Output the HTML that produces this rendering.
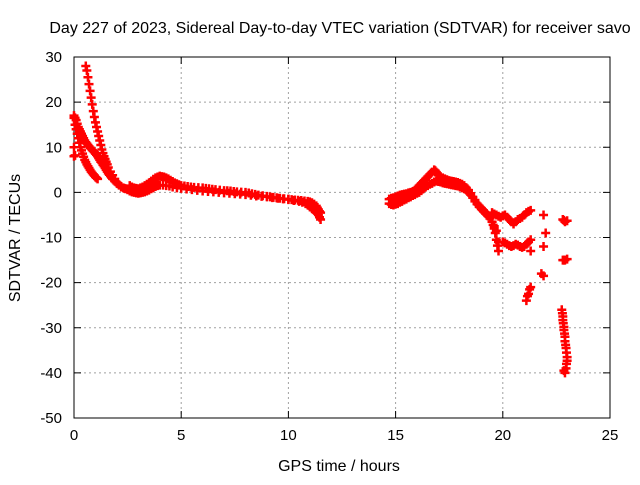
<!DOCTYPE html>
<html><head><meta charset="utf-8"><style>
body{margin:0;background:#fff}
svg{font-family:"Liberation Sans",sans-serif;font-size:15px}
</style></head><body>
<svg id="chart" width="640" height="480">
<text x="340" y="33" text-anchor="middle" style="font-size:16px">Day 227 of 2023, Sidereal Day-to-day VTEC variation (SDTVAR) for receiver savo</text>
<text x="339" y="471" text-anchor="middle" style="font-size:16px">GPS time / hours</text>
<text transform="translate(20,238) rotate(-90)" text-anchor="middle" style="font-size:16px">SDTVAR / TECUs</text>
<g id="grid"></g><g id="axes"></g><g id="marks"></g>
</svg>
<script>
const xTicks=[0,5,10,15,20,25];
const yTicks=[30,20,10,0,-10,-20,-30,-40,-50];
const trackA_x=[0.55,0.6,0.65,0.7,0.75,0.8,0.85,0.9,0.95,1.0,1.05,1.1,1.15,1.2,1.25,1.3,1.35,1.4,1.45,1.5,1.55,1.6,1.7,1.8,1.9,2.0,2.1,2.2,2.35,2.5,2.65,2.8,3.0];
const trackA_y=[28,27,25.5,24,22.5,21,19.5,18,16.7,15.5,14.5,13.5,12.5,11.5,10.5,9.5,8.7,8,7.4,6.8,6.2,5.5,4.6,3.8,3,2.2,1.7,1.3,0.9,0.6,0.4,0.3,0.2];
const trackB_x=[0,0.05,0.1,0.15,0.2,0.25,0.3,0.35,0.4,0.45,0.5,0.55,0.6,0.65,0.7,0.75,0.8,0.85,0.9,0.95,1.0,1.05,1.1,1.15,1.2,1.25,1.3,1.35,1.4,1.45,1.5,1.55,1.6,1.65,1.7,1.75,1.8,1.9,2.0,2.1,2.2,2.3,2.4,2.5,2.6];
const trackB_y=[17,16.5,16,15.2,14.5,14,13.5,13,12.5,12,11.5,11.1,10.8,10.5,10.2,9.9,9.7,9.4,9.2,8.9,8.6,8.3,8,7.6,7.2,6.8,6.5,6.1,5.8,5.4,5,4.6,4.2,3.9,3.6,3.3,3,2.5,2,1.6,1.2,1,0.8,0.6,0.5];
const trackC_x=[0,0.05,0.1,0.15,0.2,0.25,0.3,0.35,0.4,0.45,0.5,0.55,0.6,0.65,0.7,0.75,0.8,0.85,0.9,0.95,1.0,1.05,1.1,0,0,0.05];
const trackC_y=[16.5,15,14,13,12,11,10,9.3,8.6,7.9,7.2,6.7,6.2,5.8,5.4,5,4.6,4.3,4,3.7,3.4,3.2,3,10,8,8.2];
const band1_x=[2.6,2.7,2.8,2.9,3.0,3.1,3.2,3.3,3.4,3.5,3.6,3.7,3.8,3.9,4.0,4.1,4.2,4.3,4.4,4.5,4.6,4.7,4.8,4.9,5.0,5.15,5.3,5.45,5.6,5.8,6.0,6.15,6.3,6.45,6.6,6.8,7.0,7.15,7.3,7.45,7.6,7.8,8.0,8.15,8.3,8.45,8.6,8.8,9.0,9.15,9.3,9.45,9.6,9.8,10.0,10.15,10.3,10.45,10.6,10.75,10.9,11.0,11.1,11.2,11.3,11.35,11.4,11.45,11.5];
const band1_y=[1.5,1.2,1,0.9,0.8,1,1.2,1.5,1.8,2.1,2.5,2.9,3.2,3.4,3.6,3.5,3.4,3.2,3,2.7,2.4,2.1,1.9,1.7,1.5,1.4,1.3,1.2,1.1,1.05,1,0.9,0.8,0.7,0.6,0.5,0.4,0.35,0.3,0.2,0.1,0.05,0,-0.15,-0.3,-0.45,-0.6,-0.75,-0.9,-1,-1.1,-1.2,-1.3,-1.4,-1.5,-1.6,-1.7,-1.75,-1.8,-1.9,-2,-2.1,-2.3,-2.6,-3,-3.4,-3.8,-4.2,-4.5];
const band2_x=[2.6,2.7,2.8,2.9,3.0,3.1,3.2,3.3,3.4,3.5,3.6,3.7,3.8,3.9,4.0,4.15,4.3,4.45,4.6,4.8,5.0,5.25,5.5,5.75,6.0,6.25,6.5,6.75,7.0,7.25,7.5,7.75,8.0,8.25,8.5,8.75,9.0,9.25,9.5,9.75,10.0,10.25,10.5,10.65,10.8,10.9,11.0,11.1,11.2,11.3,11.4,11.45,11.5];
const band2_y=[0.3,0.1,0,-0.1,-0.2,-0.1,0,0.1,0.3,0.5,0.8,1,1.3,1.5,1.6,1.6,1.5,1.4,1.2,1,0.9,0.75,0.6,0.45,0.3,0.2,0.1,0,-0.1,-0.2,-0.3,-0.4,-0.5,-0.65,-0.8,-0.9,-1,-1.15,-1.3,-1.45,-1.6,-1.8,-2,-2.2,-2.5,-2.8,-3.2,-3.6,-4,-4.5,-5,-5.5,-6];
const band3_x=[14.7,14.8,14.9,15.0,15.1,15.2,15.3,15.4,15.5,15.6,15.7,15.8,15.9,16.0,16.1,16.2,16.3,16.4,16.5,16.6,16.7,16.8,16.85,16.9,17.0,17.1,17.2,17.3,17.4,17.5,17.6,17.7,17.8,17.9,18.0,18.1,18.2,18.3,18.4,18.5,18.6,18.7,18.8,18.9,19.0,19.1,19.2,19.3,19.4,19.5,19.55,19.6,19.65,19.7,19.75,19.8];
const band3_y=[-1.5,-1.3,-1.2,-1,-0.8,-0.6,-0.5,-0.4,-0.3,-0.1,0,0.2,0.5,1,1.5,2,2.5,3,3.5,4,4.5,5,4.8,4.5,3.8,3.5,3.2,3,2.8,2.6,2.5,2.4,2.3,2.2,2,1.8,1.5,1,0.5,-0.2,-1,-1.7,-2.5,-3,-3.5,-4,-4.5,-5,-5.5,-6.5,-7.2,-8,-9,-10.5,-11.8,-13];
const band4_x=[14.7,14.8,14.9,15.0,15.1,15.2,15.3,15.4,15.5,15.6,15.7,15.8,15.9,16.0,16.1,16.2,16.3,16.4,16.5,16.6,16.7,16.8,16.9,17.0,17.1,17.2,17.3,17.4,17.5,17.6,17.7,17.8,17.9,18.0,18.1,18.2,18.3,18.4,18.5,18.6,18.7,18.8,18.9,19.0,19.1,19.2,19.3,19.4,19.5,19.6,19.7,19.8];
const band4_y=[-2.5,-2.7,-2.8,-2.6,-2.5,-2.2,-2,-1.7,-1.5,-1.2,-1,-0.7,-0.5,-0.2,0,0.4,0.8,1.2,1.5,1.8,2,2.3,2.5,2.4,2.3,2.1,2,1.9,1.8,1.7,1.6,1.5,1.4,1.2,1,0.8,0.5,0,-0.5,-1.2,-2,-2.6,-3.2,-3.7,-4.2,-4.7,-5.2,-5.8,-6.5,-7.5,-8.5,-11];
const band5_x=[19.5,19.6,19.7,19.8,19.9,20.0,20.1,20.2,20.3,20.4,20.5,20.6,20.7,20.8,20.9,21.0,21.1,21.2,21.3,20.0,20.1,20.2,20.3,20.4,20.5,20.6,20.7,20.8,20.9,21.0,21.1,21.2,21.3,21.3,21.3,21.25,21.2,21.15,21.1,21.9,22.0,21.9,21.9,21.8,22.8,22.85,22.9,23.0,22.8,22.85,22.9,23.0];
const band5_y=[-4.5,-4.8,-5,-5.3,-5.5,-5.2,-5,-5.5,-6,-6.5,-7,-6.5,-6,-5.8,-5.5,-5,-4.5,-4.2,-4,-11,-11.2,-11.5,-11.8,-12,-11.8,-11.5,-11.7,-12,-12.2,-12,-11.5,-11,-10.5,-13,-21,-21.5,-22.5,-23,-24,-5,-9,-12,-18.5,-18,-6,-6.2,-6.5,-6.3,-15,-15,-15,-14.8];
const band6_x=[22.75,22.78,22.8,22.8,22.82,22.85,22.85,22.88,22.9,22.9,22.93,22.95,22.97,23.0,23.0,22.97,22.95,22.9,22.85];
const band6_y=[-26,-26.8,-27.5,-28.3,-29,-29.8,-30.5,-31.3,-32,-33,-33.8,-34.5,-35.5,-36.5,-37.3,-38,-39,-40,-39.5];
const L=74,R=610,T=57,B=418;
const X=v=>L+(v-0)/25*(R-L), Y=v=>T+(30-v)/80*(B-T);
const ns="http://www.w3.org/2000/svg";
const g=document.getElementById('grid'),a=document.getElementById('axes'),m=document.getElementById('marks');
function mk(tag,at,p){const e=document.createElementNS(ns,tag);for(const k in at)e.setAttribute(k,at[k]);p.appendChild(e);return e;}
xTicks.forEach(t=>{
 const gl=mk('line',{x1:X(t),x2:X(t),y1:T,y2:B,stroke:'#a0a0a0','stroke-dasharray':'2,3'},g);
 
 
 mk('path',{d:`M${X(t)},${B}v-7M${X(t)},${T}v7`,stroke:'#000'},a);
 const tx=mk('text',{x:X(t),y:B+22,'text-anchor':'middle'},a);tx.textContent=t;
 
 
});
yTicks.forEach(t=>{
 const gl=mk('line',{x1:L,x2:R,y1:Y(t),y2:Y(t),stroke:'#a0a0a0','stroke-dasharray':'2,3'},g);
 
 
 mk('path',{d:`M${L},${Y(t)}h7M${R},${Y(t)}h-7`,stroke:'#000'},a);
 const tx=mk('text',{x:L-12,y:Y(t)+5,'text-anchor':'end'},a);tx.textContent=t;
 
 
});
const fr=mk('rect',{x:L,y:T,width:R-L,height:B-T,fill:'none',stroke:'#000'},a);


const tracks=[[trackA_x,trackA_y],[trackB_x,trackB_y],[trackC_x,trackC_y],[band1_x,band1_y],[band2_x,band2_y],[band3_x,band3_y],[band4_x,band4_y],[band5_x,band5_y],[band6_x,band6_y]];
tracks.forEach(([xs,ys])=>xs.forEach((xv,i)=>{
 const px=X(xv),py=Y(ys[i]);
 const p=mk('path',{d:`M${px-4.5},${py}H${px+4.5}M${px},${py-4.5}V${py+4.5}`,stroke:'#f00','stroke-width':2.5},m);
 
 
}));
</script>
</body></html>
